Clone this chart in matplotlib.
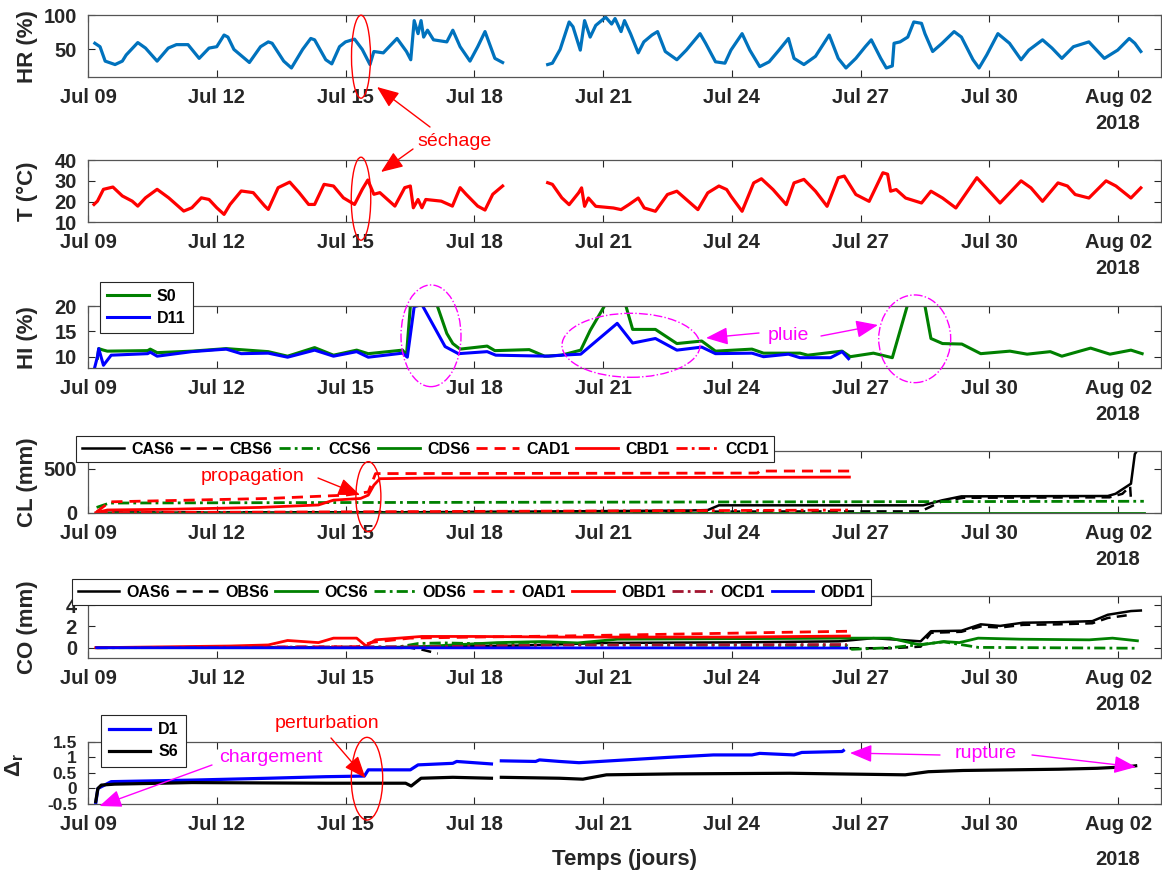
import numpy as np
import matplotlib
matplotlib.use("Agg")
import matplotlib.pyplot as plt
from matplotlib.patches import Ellipse, FancyArrowPatch

plt.rcParams['font.family'] = ['Liberation Sans', 'DejaVu Sans']
plt.rcParams['mathtext.fontset'] = 'custom'
plt.rcParams['mathtext.rm'] = 'Liberation Sans:bold'
plt.rcParams['mathtext.it'] = 'Liberation Sans:bold'
plt.rcParams['mathtext.bf'] = 'Liberation Sans:bold'

# ---- data (days after 2018-07-09 00:00) ----
hr_days = [0.16, 0.28, 0.40, 0.63, 0.80, 0.89, 1.16, 1.34, 1.61, 1.87, 2.06, 2.33, 2.59, 2.82, 3.00, 3.17,
           3.26, 3.40, 3.76, 4.02, 4.20, 4.29, 4.56, 4.74, 5.00, 5.19, 5.28, 5.54, 5.68, 5.86, 6.00, 6.21,
           6.39, 6.57, 6.66, 6.88, 7.20, 7.42, 7.52, 7.60, 7.69, 7.76, 7.82, 7.91, 8.05, 8.36, 8.50, 8.67,
           8.90, 9.08, 9.25, 9.48, 9.66, 10.2, 10.71, 10.82, 11.00, 11.21, 11.30, 11.47, 11.57, 11.70, 11.83,
           12.06, 12.20, 12.28, 12.42, 12.50, 12.64, 12.82, 12.95, 13.14, 13.27, 13.45, 13.72, 13.94, 14.26,
           14.39, 14.62, 14.84, 14.98, 15.24, 15.42, 15.65, 15.87, 16.10, 16.32, 16.45, 16.68, 16.95, 17.27,
           17.48, 17.66, 17.89, 18.11, 18.25, 18.47, 18.60, 18.74, 18.78, 18.92, 19.10, 19.24, 19.42, 19.50,
           19.68, 19.90, 20.18, 20.35, 20.62, 20.76, 20.94, 21.20, 21.47, 21.74, 21.92, 22.24, 22.46, 22.69,
           22.96, 23.32, 23.68, 23.99, 24.26, 24.39, 24.53]
hr_vals = [59, 54, 33, 28, 33, 42, 60, 52, 33, 52, 57, 57, 37, 52, 54, 71,
           68, 50, 31, 54, 61, 59, 33, 23, 50, 66, 64, 35, 29, 54, 61, 65,
           50, 28, 47, 45, 66, 47, 35, 92, 73, 92, 68, 78, 64, 61, 78, 54,
           33, 54, 76, 37, 31, np.nan, 28, 30, 50, 90, 83, 49, 92, 68, 85,
           97, 87, 95, 76, 92, 73, 45, 61, 71, 76, 47, 35, 49, 73,
           59, 32, 30, 49, 73, 49, 25, 32, 49, 66, 37, 28, 40, 71,
           37, 23, 37, 54, 64, 37, 23, 26, 59, 61, 68, 90, 88, 73,
           47, 59, 76, 68, 35, 23, 42, 73, 59, 35, 49, 64, 52, 37,
           54, 61, 37, 49, 66, 59, 47]

t_days = [0.14, 0.22, 0.36, 0.58, 0.80, 1.03, 1.16, 1.34, 1.61, 1.88, 2.23, 2.42, 2.64, 2.82, 3.00, 3.17,
          3.31, 3.57, 3.85, 4.12, 4.20, 4.43, 4.70, 4.92, 5.14, 5.28, 5.50, 5.72, 5.95, 6.21, 6.39, 6.52,
          6.66, 6.80, 7.15, 7.38, 7.51, 7.58, 7.69, 7.78, 7.87, 8.23, 8.49, 8.67, 8.81, 9.08, 9.25, 9.43,
          9.66, 10.2, 10.71, 10.82, 11.04, 11.21, 11.43, 11.50, 11.57, 11.66, 11.83, 12.24, 12.42, 12.60,
          12.82, 12.96, 13.22, 13.50, 13.72, 13.94, 14.21, 14.44, 14.70, 14.88, 14.98, 15.24, 15.51, 15.69,
          15.96, 16.27, 16.45, 16.68, 16.95, 17.22, 17.48, 17.62, 17.89, 18.20, 18.52, 18.63, 18.70, 18.83,
          19.05, 19.42, 19.64, 19.91, 20.22, 20.71, 21.07, 21.25, 21.74, 21.97, 22.24, 22.60, 22.82, 23.00,
          23.32, 23.72, 23.95, 24.30, 24.53]
t_vals = [18.6, 20.2, 25.9, 27.0, 22.7, 20.2, 17.8, 21.8, 25.9, 21.8, 15.4, 17.0, 21.8, 21.0, 17.0, 13.8,
          18.6, 25.1, 24.3, 17.8, 16.2, 26.7, 29.4, 24.3, 18.6, 18.6, 28.3, 27.5, 21.8, 18.6, 25.9, 30.4,
          23.5, 24.3, 17.8, 26.7, 27.5, 17.0, 21.0, 17.0, 21.0, 20.2, 17.8, 26.7, 23.5, 17.8, 15.9, 23.5,
          27.5, np.nan, 29.1, 28.3, 21.8, 18.5, 24.2, 26.6, 17.7, 21.7, 17.7, 16.9, 16.1, 18.5,
          21.7, 16.9, 15.3, 23.4, 25.0, 21.0, 16.1, 24.2, 27.5, 25.8, 22.6, 15.3, 29.0, 31.0,
          25.8, 18.5, 29.0, 30.7, 25.0, 17.7, 31.5, 32.3, 23.4, 20.1, 33.9, 33.2, 25.0, 25.8,
          21.7, 19.3, 25.0, 21.7, 16.9, 31.5, 23.4, 19.3, 30.0, 26.6, 20.1, 29.0, 27.5, 23.4,
          21.7, 30.0, 27.5, 21.7, 26.6]

s0_days = [0.22, 0.25, 0.36, 0.45, 1.39, 1.45, 1.61, 2.42, 3.22, 4.20, 4.65, 5.28, 5.72, 6.26, 6.53, 7.33,
           7.42, 7.52, 8.10, 8.36, 8.50, 8.67, 9.30, 9.48, 10.28, 10.64, 11.03, 11.48, 11.70, 12.10, 12.50,
           12.69, 13.22, 13.72, 14.30, 14.62, 15.47, 15.74, 16.59, 16.77, 17.57, 17.76, 18.30, 18.74, 19.12,
           19.48, 19.64, 19.91, 20.36, 20.80, 21.48, 21.88, 22.42, 22.69, 23.36, 23.81, 24.30, 24.56]
s0_vals = [9.7, 11.6, 11.3, 11.1, 11.2, 11.5, 10.8, 11.1, 11.6, 11.0, 10.1, 11.8, 10.3, 11.3, 10.6, 11.3,
           10.3, 21.0, 21.0, 14.6, 12.6, 11.5, 12.1, 11.2, 11.4, 10.1, 10.3, 11.3, 15.2, 21.0, 21.0,
           15.4, 15.4, 12.6, 13.1, 11.1, 11.5, 10.7, 10.7, 10.3, 11.1, 10.0, 10.7, 9.8, 21.0,
           21.0, 13.6, 12.6, 12.5, 10.6, 11.1, 10.5, 11.0, 10.1, 11.7, 10.5, 11.3, 10.6]

d11_days = [0.16, 0.22, 0.25, 0.36, 0.54, 1.39, 1.45, 1.61, 2.42, 3.22, 3.57, 4.20, 4.65, 5.28, 5.72, 6.26,
            6.53, 7.33, 7.44, 7.60, 7.78, 8.32, 8.63, 9.30, 9.50, 10.73, 11.03, 11.48, 12.33, 12.69, 13.22,
            13.72, 14.30, 14.62, 15.47, 15.74, 16.32, 16.59, 17.30, 17.57, 17.72]
d11_vals = [8.0, 10.0, 11.6, 8.3, 10.3, 10.6, 10.9, 10.1, 11.0, 11.5, 10.6, 10.7, 9.9, 11.3, 10.1, 11.0,
            9.9, 10.7, 9.9, 19.9, 20.3, 12.0, 10.6, 11.0, 10.3, 10.1, 10.3, 10.5, 16.6, 12.7, 13.6,
            11.3, 11.9, 10.6, 10.7, 10.0, 10.5, 9.8, 9.8, 11.0, 9.6]

# CL (mm)
cas6_days = [0.2, 8.0, 14.0, 14.44, 14.7, 19.46, 19.9, 20.35, 23.76, 23.94, 24.3, 24.39, 24.46]
cas6_vals = [0, 5, 25, 30, 84, 84, 141, 186, 190, 215, 330, 666, 720]
cbs6_days = [0.2, 17.5, 19.4, 19.9, 20.4, 23.8, 24.1, 24.28, 24.3]
cbs6_vals = [0, 15, 15, 130, 170, 175, 215, 300, 150]
ccs6_days = [0.2, 0.5, 5.0, 12.0, 24.6]
ccs6_vals = [60, 110, 115, 120, 130]
cds6_days = [0.2, 24.6]
cds6_vals = [0, 0]
cad1_days = [0.2, 0.5, 0.54, 4.2, 6.0, 6.53, 6.7, 15.6, 15.65, 17.74]
cad1_vals = [10, 120, 124, 162, 200, 236, 445, 451, 474, 474]
cbd1_days = [0.18, 0.45, 2.0, 4.0, 5.37, 5.72, 6.35, 6.53, 6.66, 6.8, 8.0, 17.74]
cbd1_vals = [0, 31, 40, 60, 88, 143, 162, 200, 313, 387, 395, 405]
ccd1_days = [0.2, 6.0, 12.0, 17.74]
ccd1_vals = [0, 10, 20, 30]

# CO (mm)
oas6_days = [0.2, 7.0, 10.0, 12.0, 15.0, 17.5, 18.3, 19.4, 19.64, 20.35, 20.8, 21.25, 21.78, 22.6, 23.4,
             23.76, 24.3, 24.53]
oas6_vals = [0, 0.05, 0.2, 0.45, 0.5, 0.6, 0.9, 0.6, 1.55, 1.6, 2.2, 2.05, 2.35, 2.4, 2.5, 3.1, 3.45, 3.5]
obs6_days = [0.2, 7.5, 7.8, 8.15, 12.0, 17.74, 18.7, 19.4, 19.64, 20.35, 20.8, 21.25, 21.78, 22.6, 23.4,
             23.76, 24.3]
obs6_vals = [0, 0, -0.2, -0.55, np.nan, -0.05, -0.05, 0.1, 1.4, 1.5, 2.0, 1.9, 2.15, 2.2, 2.3, 2.8, 3.1]
ocs6_days = [0.2, 7.3, 7.76, 9.54, 10.61, 11.41, 12.34, 15.0, 17.68, 18.69, 19.39, 19.94, 20.3, 20.74,
             21.73, 23.33, 23.87, 24.45]
ocs6_vals = [0, 0, 0.1, 0.48, 0.58, 0.45, 0.8, 0.85, 0.9, 0.9, 0.26, 0.58, 0.48, 0.9, 0.8, 0.74, 0.9, 0.65]
ods6_days = [0.2, 7.2, 7.7, 8.3, 10.0, 17.68, 17.8, 18.7, 19.4, 19.94, 20.74, 24.45]
ods6_vals = [0, 0.05, 0.4, 0.45, 0.3, 0.2, -0.15, 0.0, 0.3, 0.55, 0.03, -0.05]
oad1_days = [0.2, 6.3, 6.6, 7.5, 9.0, 11.0, 14.0, 17.74]
oad1_vals = [0, 0.1, 0.5, 0.9, 1.0, 1.1, 1.3, 1.55]
obd1_days = [0.18, 3.31, 4.2, 4.65, 5.37, 5.72, 6.26, 6.48, 6.7, 7.78, 9.0, 11.0, 15.0, 17.74]
obd1_vals = [0, 0.16, 0.26, 0.68, 0.48, 0.9, 0.9, 0.16, 0.74, 1.06, 1.06, 1.0, 1.0, 1.1]
ocd1_days = [0.2, 8.0, 11.0, 17.68]
ocd1_vals = [0, 0.1, 0.25, 0.3]
odd1_days = [0.2, 17.68]
odd1_vals = [0, -0.03]

# Delta r
d1_days = [0.18, 0.23, 0.54, 2.42, 4.2, 5.54, 6.44, 6.53, 7.51, 7.69, 8.5, 8.59, 9.4, 9.5, 9.63, 10.43,
           10.52, 10.99, 11.44, 12.78, 13.5, 14.57, 15.47, 15.65, 16.45, 16.63, 17.57, 17.6]
d1_vals = [-0.48, 0.0, 0.22, 0.27, 0.33, 0.38, 0.40, 0.60, 0.60, 0.76, 0.81, 0.87, 0.79, np.nan, 0.89, 0.87,
           0.92, 0.87, 0.83, 0.94, 1.0, 1.08, 1.08, 1.13, 1.08, 1.16, 1.19, 1.22]
s6_days = [0.18, 0.23, 0.31, 0.62, 2.42, 5.54, 7.4, 7.53, 7.76, 8.5, 9.4, 9.5, 9.63, 10.99, 11.53, 12.08,
           13.68, 16.36, 19.04, 19.58, 20.39, 22.62, 23.51, 24.23, 24.41]
s6_vals = [-0.42, 0.0, 0.11, 0.14, 0.19, 0.17, 0.17, 0.08, 0.33, 0.36, 0.33, np.nan, 0.36, 0.33, 0.3, 0.44,
           0.47, 0.49, 0.44, 0.54, 0.58, 0.62, 0.65, 0.70, 0.73]

start = np.datetime64('2018-07-09T00:00')


def to_dates(days):
    return start + (np.asarray(days, dtype=float) * 86400).astype('timedelta64[s]')


tick_dates = to_dates(np.arange(0, 25, 3))
tick_labels = [str(d.astype(object).strftime('%b %d')) for d in tick_dates]

W, H = 1162, 873
fig = plt.figure(figsize=(W / 100, H / 100), dpi=100)

GREY = '#262626'
GREEN = '#008000'
panel_bottoms = [0.9115, 0.7454, 0.5781, 0.4120, 0.2459, 0.0790]
axes = [fig.add_axes([88 / W, b, 1073 / W, 0.0712]) for b in panel_bottoms]

for i, ax in enumerate(axes):
    ax.set_xlim(start, to_dates([25])[0])
    ax.set_xticks(tick_dates)
    ax.set_xticklabels(tick_labels)
    ax.tick_params(direction='in', top=True, right=True, length=5, width=0.8, colors=GREY,
                   labelsize=14.5, pad=8)
    for lab in ax.get_xticklabels() + ax.get_yticklabels():
        lab.set_fontweight('bold')
    for sp in ax.spines.values():
        sp.set_color('#555555')
        sp.set_linewidth(0.9)
    ax.annotate('2018', xy=(tick_dates[-1], 0), xycoords=('data', 'axes fraction'),
                xytext=(0, -55 if i == 5 else -46), textcoords='offset pixels', ha='center', va='center',
                fontsize=14.5, fontweight='bold', color=GREY)


def ylab(ax, text, x=-0.0466):
    ax.set_ylabel(text, fontsize=16, fontweight='bold', color=GREY)
    ax.yaxis.set_label_coords(x, 0.5)


def yt(ax, ticks, labels=None):
    ax.set_yticks(ticks)
    ax.set_yticklabels(labels if labels else [str(t) for t in ticks], fontweight='bold')


# HR
ax = axes[0]
ax.plot(to_dates(hr_days), hr_vals, color='#0072BD', lw=2.3)
ax.set_ylim(9.5, 100)
yt(ax, [50, 100])
ylab(ax, 'HR (%)')

# T
ax = axes[1]
ax.plot(to_dates(t_days), t_vals, color='#FF0000', lw=2.3)
ax.set_ylim(10, 40)
yt(ax, [10, 20, 30, 40])
ylab(ax, 'T (°C)')

# HI
ax = axes[2]
ax.plot(to_dates(s0_days), s0_vals, color=GREEN, lw=2.2, label='S0')
ax.plot(to_dates(d11_days), d11_vals, color='#0000FF', lw=2.2, label='D11')
ax.set_ylim(7.7, 20)
yt(ax, [10, 15, 20])
ylab(ax, 'HI (%)')

leg_kw = dict(fancybox=False, framealpha=1, edgecolor=GREY, borderaxespad=0,
              prop={'weight': 'bold', 'size': 11.5}, bbox_transform=fig.transFigure, loc='upper left')
lg = ax.legend(bbox_to_anchor=(100 / W, 1 - 281.7 / H), handlelength=2.6, handletextpad=0.5,
               labelspacing=0.45, borderpad=0.45, **leg_kw)
lg.get_frame().set_linewidth(0.8)

# CL
ax = axes[3]
cl_series = [
    (cas6_days, cas6_vals, 'CAS6', 'k', '-', 1.8),
    (cbs6_days, cbs6_vals, 'CBS6', 'k', (0, (4, 2.5)), 1.8),
    (ccs6_days, ccs6_vals, 'CCS6', GREEN, (0, (4, 1.5, 1, 1.5)), 2.0),
    (cds6_days, cds6_vals, 'CDS6', GREEN, '-', 2.0),
    (cad1_days, cad1_vals, 'CAD1', '#FF0000', (0, (4, 2.5)), 2.0),
    (cbd1_days, cbd1_vals, 'CBD1', '#FF0000', '-', 2.0),
    (ccd1_days, ccd1_vals, 'CCD1', '#FF0000', (0, (4, 1.5, 1, 1.5)), 2.0),
]
for d, v, name, c, ls, lw in cl_series:
    ax.plot(to_dates(d), v, color=c, ls=ls, lw=lw, label=name)
ax.set_ylim(-7, 700)
yt(ax, [0, 500])
ylab(ax, 'CL (mm)')
lg = ax.legend(bbox_to_anchor=(76 / W, 1 - 436 / H), ncol=7, handlelength=2.65, handletextpad=0.45,
               columnspacing=0.4, borderpad=0.35, **leg_kw)
lg.get_frame().set_linewidth(0.8)

# CO
ax = axes[4]
co_series = [
    (oas6_days, oas6_vals, 'OAS6', 'k', '-', 1.8),
    (obs6_days, obs6_vals, 'OBS6', 'k', (0, (4, 2.5)), 1.8),
    (ocs6_days, ocs6_vals, 'OCS6', GREEN, '-', 2.0),
    (ods6_days, ods6_vals, 'ODS6', GREEN, (0, (4, 1.5, 1, 1.5)), 2.0),
    (oad1_days, oad1_vals, 'OAD1', '#FF0000', (0, (4, 2.5)), 2.0),
    (obd1_days, obd1_vals, 'OBD1', '#FF0000', '-', 2.0),
    (ocd1_days, ocd1_vals, 'OCD1', '#A2142F', (0, (4, 1.5, 1, 1.5)), 2.0),
    (odd1_days, odd1_vals, 'ODD1', '#0000FF', '-', 2.0),
]
for d, v, name, c, ls, lw in co_series:
    ax.plot(to_dates(d), v, color=c, ls=ls, lw=lw, label=name)
ax.set_ylim(-1.0, 4.85)
yt(ax, [0, 2, 4])
ylab(ax, 'CO (mm)')
lg = ax.legend(bbox_to_anchor=(72 / W, 1 - 579.3 / H), ncol=8, handlelength=2.6, handletextpad=0.45,
               columnspacing=0.4, borderpad=0.35, **leg_kw)
lg.get_frame().set_linewidth(0.8)

# Delta r
ax = axes[5]
ax.plot(to_dates(d1_days), d1_vals, color='#0000FF', lw=2.3, label='D1')
ax.plot(to_dates(s6_days), s6_vals, color='k', lw=2.3, label='S6')
ax.set_ylim(-0.5, 1.5)
yt(ax, [-0.5, 0, 0.5, 1, 1.5], ['-0.5', '0', '0.5', '1', '1.5'])
ax.tick_params(axis='y', labelsize=12.5)
ylab(ax, r'$\Delta_\mathrm{r}$', x=-0.055)
ax.yaxis.set_label_coords(-0.058, 0.62)
lg = ax.legend(bbox_to_anchor=(101.4 / W, 1 - 715 / H), handlelength=2.6, handletextpad=0.5,
               labelspacing=0.45, borderpad=0.45, **leg_kw)
lg.get_frame().set_linewidth(0.8)

fig.text(625 / W, 1 - 860 / H, 'Temps (jours)', ha='center', va='center', fontsize=16,
         fontweight='bold', color=GREY)


# ---- annotations (figure pixel positions, origin top-left) ----
def fp(x, y):
    return (x / W, 1 - y / H)


def ellipse(cx, cy, w, h, color, ls='-'):
    fig.add_artist(Ellipse(fp(cx, cy), w / W, h / H, transform=fig.transFigure, fill=False,
                           edgecolor=color, lw=1, linestyle=ls))


def arrow(x0, y0, x1, y1, color):
    fig.add_artist(FancyArrowPatch(fp(x0, y0), fp(x1, y1), transform=fig.transFigure,
                                   arrowstyle='-|>,head_length=0.75,head_width=0.3', mutation_scale=18,
                                   color=color, lw=1, shrinkA=0, shrinkB=0))


def label(x, y, text, color):
    fig.text(*fp(x, y), text, ha='center', va='center', fontsize=14, color=color)


RED = '#FF0000'
MAG = '#FF00FF'
ellipse(361, 56.7, 19, 83, RED)
ellipse(361, 198.7, 19.5, 83, RED)
label(455, 141, 'séchage', RED)
arrow(430, 127, 377, 87, RED)
arrow(413, 149, 381, 172, RED)

ellipse(431, 335.8, 60, 101.7, MAG, '-.')
ellipse(631, 345.3, 138, 64, MAG, '-.')
ellipse(914.7, 338.8, 72, 87.7, MAG, '-.')
label(788, 336, 'pluie', MAG)
arrow(759, 333, 706, 338, MAG)
arrow(821, 336, 878, 325, MAG)

ellipse(368.4, 496.7, 25, 70, RED)
label(252.6, 476.7, 'propagation', RED)
arrow(318, 478, 360, 495, RED)

ellipse(367, 778.7, 31.4, 82.7, RED)
label(327, 723, 'perturbation', RED)
arrow(331, 738, 365.5, 778, RED)
label(270.7, 758, 'chargement', MAG)
arrow(212, 765, 99.5, 806, MAG)
label(986, 753, 'rupture', MAG)
arrow(940, 755, 850, 753, MAG)
arrow(1032, 755, 1136, 767, MAG)

fig.savefig('out.png', dpi=100)
